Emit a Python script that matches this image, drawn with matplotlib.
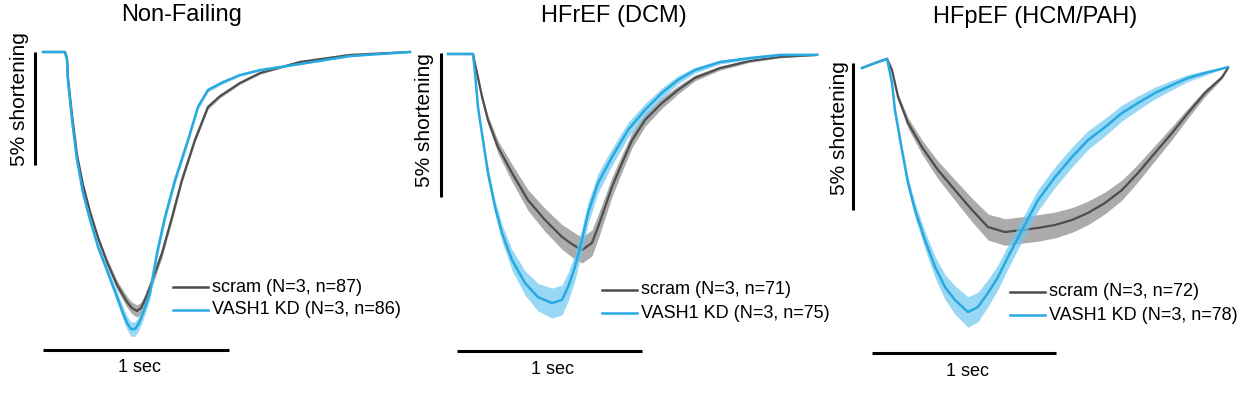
import matplotlib.pyplot as plt
import numpy as np

plt.rcParams["font.family"] = ["Liberation Sans", "DejaVu Sans"]

GRAY = "#4d4d4d"
GRAY_BAND = "#8f8f8f"
BLUE = "#27a9e1"
BLUE_BAND = "#6ec8f0"

TITLES = ["Non-Failing", "HFrEF (DCM)", "HFpEF (HCM/PAH)"]
LEG_SCRAM = ["scram (N=3, n=87)", "scram (N=3, n=71)", "scram (N=3, n=72)"]
LEG_KD = ["VASH1 KD (N=3, n=86)", "VASH1 KD (N=3, n=75)", "VASH1 KD (N=3, n=78)"]

# time (s) / % shortening (positive = shortened) / SEM
nf_scram_t = [0, .118, .129, .134, .156, .183, .215, .253, .296, .344, .398, .452, .478,
              .505, .527, .548, .575, .640, .694, .747, .817, .887, .952, 1.059, 1.167,
              1.382, 1.651, 1.973]
nf_scram_s = [0, 0, .27, 1.15, 2.79, 4.56, 5.88, 7.08, 8.23, 9.29, 10.31, 11.06, 11.33,
              11.46, 11.33, 10.97, 10.40, 8.89, 7.30, 5.66, 3.89, 2.43, 1.95, 1.37, .93,
              .44, .13, 0]
nf_scram_e = [0, 0, .03, .05, .07, .09, .1, .12, .14, .16, .2, .24, .26,
              .27, .26, .25, .24, .2, .17, .14, .12, .1, .08, .06, .05, .04, .02, 0]

nf_kd_t = [0, .118, .129, .134, .156, .183, .215, .253, .296, .344, .398, .430, .452, .473,
           .495, .516, .538, .575, .613, .656, .710, .780, .833, .887, .968, 1.059, 1.167,
           1.382, 1.651, 1.973]
nf_kd_s = [0, 0, .35, 1.24, 3.01, 4.78, 6.24, 7.43, 8.63, 9.65, 10.84, 11.55, 11.99, 12.26,
           12.26, 11.99, 11.55, 10.66, 8.89, 7.30, 5.66, 3.89, 2.43, 1.68, 1.33, 1.02, .80,
           .53, .18, 0]
nf_kd_e = [0, 0, .03, .06, .1, .12, .14, .16, .18, .2, .24, .28, .3, .32,
           .32, .31, .3, .28, .25, .22, .2, .16, .12, .09, .07, .05, .04, .03, .02, 0]

dcm_scram_t = [0, .135, .157, .184, .216, .270, .346, .432, .524, .616, .670, .724, .778,
               .811, .849, .886, .941, .995, 1.065, 1.157, 1.243, 1.335, 1.470, 1.632, 1.795, 1.995]
dcm_scram_s = [0, 0, .66, 1.49, 2.29, 3.23, 4.13, 5.07, 5.76, 6.35, 6.60, 6.81, 6.56,
               6.01, 5.31, 4.62, 3.78, 2.99, 2.29, 1.70, 1.25, .83, .49, .24, .10, .03]
dcm_scram_e = [0, 0, .04, .1, .15, .22, .3, .36, .4, .43, .45, .45, .45,
               .42, .38, .34, .3, .26, .22, .18, .14, .1, .07, .05, .03, .02]

dcm_kd_t = [0, .135, .146, .162, .189, .216, .254, .292, .346, .416, .486, .562, .616, .649,
            .686, .724, .757, .811, .886, .973, 1.065, 1.157, 1.243, 1.335, 1.470, 1.632, 1.795, 1.995]
dcm_kd_s = [0, 0, .66, 1.84, 2.99, 4.13, 5.31, 6.22, 7.15, 7.95, 8.44, 8.65, 8.54, 8.09,
            7.40, 6.46, 5.52, 4.48, 3.58, 2.64, 1.94, 1.35, .90, .56, .28, .14, .03, .03]
dcm_kd_e = [0, 0, .05, .1, .15, .2, .25, .3, .36, .42, .48, .52, .52, .5,
            .46, .42, .38, .34, .3, .26, .22, .18, .14, .1, .07, .05, .03, .02]

hcm_scram_t = [0, .071, .136, .163, .196, .250, .326, .413, .505, .598, .685, .777, .870,
               .957, 1.049, 1.141, 1.228, 1.321, 1.413, 1.500, 1.592, 1.685, 1.772, 1.864, 1.957, 1.989]
hcm_scram_s = [0, -.17, -.31, .07, .99, 1.87, 2.69, 3.47, 4.15, 4.83, 5.41, 5.58, 5.51,
               5.44, 5.34, 5.17, 4.93, 4.59, 4.15, 3.57, 2.89, 2.21, 1.53, .85, .31, 0]
hcm_scram_e = [0, 0, 0, .05, .12, .18, .24, .3, .35, .4, .44, .45, .45,
               .45, .44, .42, .4, .37, .34, .3, .26, .22, .17, .12, .06, 0]

hcm_kd_t = [0, .071, .136, .141, .163, .179, .217, .250, .288, .342, .397, .451, .505, .576,
            .630, .685, .739, .793, .870, .957, 1.049, 1.141, 1.228, 1.321, 1.413, 1.500,
            1.592, 1.685, 1.772, 1.864, 1.989]
hcm_kd_s = [0, -.17, -.31, -.17, .51, 1.43, 2.79, 3.91, 4.83, 5.85, 6.77, 7.45, 7.89, 8.30,
            8.13, 7.65, 7.11, 6.43, 5.51, 4.49, 3.71, 3.03, 2.45, 2.01, 1.53, 1.19,
            .85, .58, .34, .17, -.03]
hcm_kd_e = [0, 0, 0, .02, .06, .1, .15, .2, .25, .3, .36, .42, .48, .52,
            .5, .46, .42, .4, .38, .36, .35, .34, .32, .3, .27, .24, .2, .16, .12, .08, 0]

# panel geometry in figure pixels: box, trace origin, px per s, px per %
W, H = 1243, 394
panels = [
    dict(box=(0, 415), x0=43, y0=52, kx=186, ky=22.6, bar_x=43, bar_y=350,
         vbar_x=35, vbar_top=52, ylab=(20, 99), title=(182, 15), leg=(173, 287)),
    dict(box=(415, 830), x0=448, y0=54, kx=185, ky=28.8, bar_x=457, bar_y=351,
         vbar_x=441, vbar_top=53, ylab=(425, 120), title=(614, 16), leg=(602, 290)),
    dict(box=(830, 1243), x0=862, y0=68, kx=184, ky=29.4, bar_x=872, bar_y=353,
         vbar_x=853, vbar_top=63, ylab=(839, 128), title=(1035, 17), leg=(1010, 292)),
]
series = [
    (nf_scram_t, nf_scram_s, nf_scram_e, nf_kd_t, nf_kd_s, nf_kd_e),
    (dcm_scram_t, dcm_scram_s, dcm_scram_e, dcm_kd_t, dcm_kd_s, dcm_kd_e),
    (hcm_scram_t, hcm_scram_s, hcm_scram_e, hcm_kd_t, hcm_kd_s, hcm_kd_e),
]

fig = plt.figure(figsize=(W / 100, H / 100), dpi=100)
fig.patch.set_facecolor("white")


def ftext(x, y, s, **kw):
    # place text by figure pixel (top-left origin)
    fig.text(x / W, 1 - y / H, s, **kw)


for i, (p, d) in enumerate(zip(panels, series)):
    px0, px1 = p["box"]
    ax = fig.add_axes([px0 / W, 0, (px1 - px0) / W, 1])
    ax.set_xlim((px0 - p["x0"]) / p["kx"], (px1 - p["x0"]) / p["kx"])
    ax.set_ylim(-(H - p["y0"]) / p["ky"], p["y0"] / p["ky"])
    ax.set_axis_off()

    tx = lambda x: (x - p["x0"]) / p["kx"]
    ty = lambda y: -(y - p["y0"]) / p["ky"]

    st, ss, se, kt, ks, ke = [np.asarray(a, float) for a in d]
    ax.fill_between(st, -(ss - se), -(ss + se), color=GRAY_BAND, alpha=0.75, lw=0, zorder=1)
    ax.fill_between(kt, -(ks - ke), -(ks + ke), color=BLUE_BAND, alpha=0.7, lw=0, zorder=3)
    ax.plot(st, -ss, color=GRAY, lw=1.6, zorder=2, solid_joinstyle="round")
    ax.plot(kt, -ks, color=BLUE, lw=1.8, zorder=4, solid_joinstyle="round")

    # scale bars: 1 sec and 5 %
    b0 = tx(p["bar_x"])
    ax.plot([b0, b0 + 1], [ty(p["bar_y"])] * 2, color="black", lw=2.2, solid_capstyle="butt")
    ftext(p["bar_x"] + p["kx"] / 2 + 3, p["bar_y"] + 18, "1 sec", ha="center", va="center",
          fontsize=13)
    vt = ty(p["vbar_top"])
    ax.plot([tx(p["vbar_x"])] * 2, [vt, vt - 5], color="black", lw=2.2, solid_capstyle="butt")
    ftext(*p["ylab"], "5% shortening", rotation=90, ha="center", va="center", fontsize=15)

    ftext(*p["title"], TITLES[i], ha="center", va="center", fontsize=17)

    # legend drawn by hand
    lx, ly = p["leg"]
    for j, (lab, col) in enumerate([(LEG_SCRAM[i], GRAY), (LEG_KD[i], BLUE)]):
        yy = ly + 23 * j
        ax.plot([tx(lx), tx(lx + 35)], [ty(yy)] * 2, color=col, lw=1.8)
        ftext(lx + 39, yy, lab, ha="left", va="center", fontsize=13)

fig.savefig("out.png", dpi=100, facecolor="white")
